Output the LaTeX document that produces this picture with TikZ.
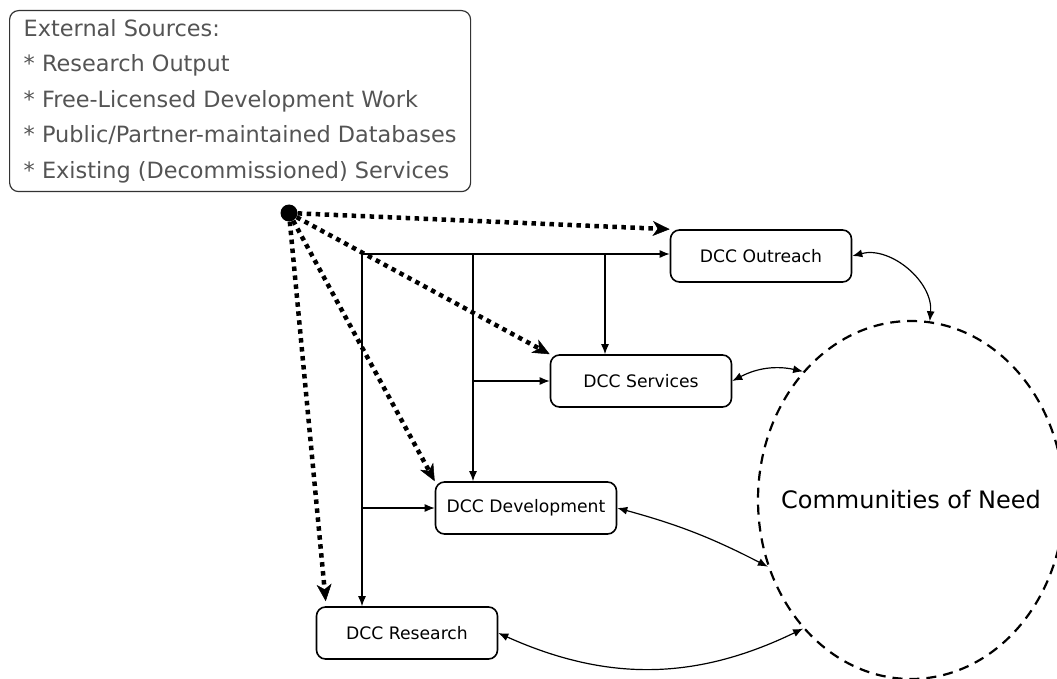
\documentclass[tikz,border=0pt]{standalone}
\usepackage{fontspec}
\setmainfont{DejaVu Sans}
\usetikzlibrary{arrows.meta}
\usetikzlibrary{shapes.geometric}
\tikzset{unit/.style = {draw, rounded corners=9pt, line width=1.6pt,
                        minimum width=181pt, minimum height=52pt, inner sep=0,
                        font=\fontsize{17.2}{20}\selectfont}}
\tikzset{feed/.style = {line width=4.5pt, dash pattern=on 4.5pt off 4.5pt,
                        -{Stealth[length=17pt,width=15pt,inset=5pt,line width=0.5pt]}}}
\tikzset{link/.style = {line width=1.2pt, -{Latex[length=10pt,width=8pt]}}}
\tikzset{both/.style = {link, {Latex[length=10pt,width=8pt]}-{Latex[length=10pt,width=8pt]}}}
\tikzset{circ/.style = {fill, circle, inner sep = 0, minimum size = 17}}
\definecolor{mgray}{rgb}{0.33, 0.33, 0.33}

\begin{document}
\begin{tikzpicture}[x=1pt, y=1pt]
    \useasboundingbox (0, 0) rectangle (1057, -679);

    \node [draw=black!80, rounded corners=9pt, line width=1.2pt, anchor=north west,
           minimum width=461pt, minimum height=181pt, inner xsep=14pt, align=left,
           text=mgray, font=\fontsize{22.4}{35.5}\selectfont] (ext) at (9, -10)
          {External Sources:\\* Research Output\\* Free-Licensed Development Work\\
           * Public/Partner-maintained Databases\\* Existing (Decommissioned) Services};
    \node [circ] (src) at (289, -213) {};

    \node [unit] (out) at (761, -256) {DCC Outreach};
    \node [unit] (srv) at (641, -381) {DCC Services};
    \node [unit] (dev) at (526, -508) {DCC Development};
    \node [unit] (res) at (407, -633) {DCC Research};

    \node [ellipse, draw, dash pattern=on 10pt off 7pt, line width=2.2pt,
           minimum width=306pt, minimum height=358pt, inner sep=0] (need) at (911, -500) {};
    \node [font=\fontsize{24}{28}\selectfont] (needlbl) at (need.center) {Communities of Need};

    % internal flow
    \coordinate (j1) at (362, -254);
    \coordinate (j2) at (473, -254);
    \coordinate (j3) at (605, -254);
    \draw [link] (j1) -- (j1 -| out.west);
    \draw [link] (j1) -- (j1 |- res.north);
    \draw [link] (j1 |- dev.west) -- (dev.west);
    \draw [link] (j2) -- (j2 |- dev.north);
    \draw [link] (j2 |- srv.west) -- (srv.west);
    \draw [link] (j3) -- (j3 |- srv.north);

    % external feeds
    \foreach \t in {out, srv, dev} {
      \draw [feed] (src) -- (\t.north west);
    }
    \draw [feed] (src) -- ([shift={(10pt, 5pt)}]res.north west);

    % exchange with communities
    \draw [both] (out.east) to [bend left=55] (need.84);
    \draw [both] (srv.east) to [bend left=20] (need.130);
    \draw [both] (dev.east) to [bend left=6] (need.205);
    \draw [both] (res.east) to [bend right=25] (need.230);
\end{tikzpicture}
\end{document}
